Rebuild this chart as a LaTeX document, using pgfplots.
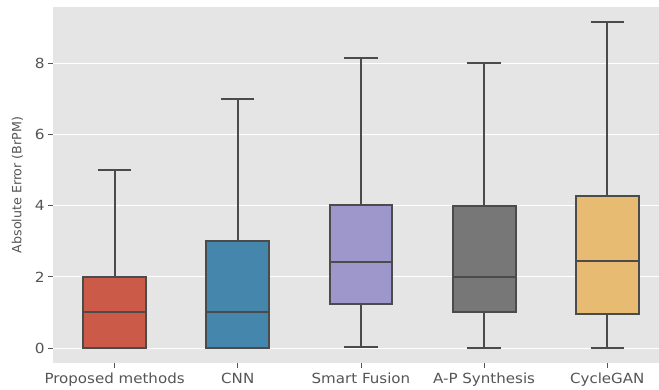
\documentclass[border=0pt]{standalone}
\usepackage{pgfplots}
\pgfplotsset{compat=1.18}
\usepgfplotslibrary{statistics}
\usepackage{fontspec}
\setmainfont{DejaVu Sans}
\definecolor{bggray}{HTML}{E5E5E5}
\definecolor{txtgray}{HTML}{555555}
\definecolor{edge}{RGB}{75,75,75}
\definecolor{c1}{RGB}{204,90,73}
\definecolor{c2}{RGB}{69,134,172}
\definecolor{c3}{RGB}{158,151,204}
\definecolor{c4}{RGB}{119,119,119}
\definecolor{c5}{RGB}{231,188,114}
\begin{document}
\begin{tikzpicture}
\begin{axis}[
  scale only axis,
  width=606bp, height=356bp,
  xmin=-0.5, xmax=4.42,
  ymin=-0.42, ymax=9.58,
  axis background/.style={fill=bggray},
  axis line style={draw=none},
  ymajorgrids, grid style={white, line width=1bp},
  xtick={0,1,2,3,4},
  xticklabels={Proposed methods,CNN,Smart Fusion,A-P Synthesis,CycleGAN},
  ytick={0,2,4,6,8},
  tick pos=left, tick align=outside,
  major tick length=4.5bp,
  tick style={color=txtgray, line width=0.8bp},
  ticklabel style={font=\fontsize{14}{16}\selectfont, text=txtgray},
  xticklabel style={xscale=1.08, yshift=-2bp},
  yticklabel style={xscale=1.1},
  /pgf/number format/assume math mode=true,
  ylabel={Absolute Error (BrPM)},
  every axis y label/.style={at={(axis description cs:-0.0586,0.5)}, rotate=90, anchor=center,
    font=\fontsize{12.7}{14}\selectfont, text=txtgray},
  boxplot/draw direction=y,
  boxplot/box extend=0.51,
  boxplot/whisker extend=0.27,
  boxplot/every box/.style={draw=edge, line width=2bp},
  boxplot/every whisker/.style={draw=edge, line width=2bp},
  boxplot/every median/.style={draw=edge, line width=2bp},
  clip=false,
]
\addplot+[fill=c1, draw=edge, line width=2bp, solid, mark=none, boxplot prepared={draw position=0,
  lower whisker=0, lower quartile=0, median=1, upper quartile=2, upper whisker=5}] coordinates {};
\addplot+[fill=c2, draw=edge, line width=2bp, solid, mark=none, boxplot prepared={draw position=1,
  lower whisker=0, lower quartile=0, median=1, upper quartile=3, upper whisker=7}] coordinates {};
\addplot+[fill=c3, draw=edge, line width=2bp, solid, mark=none, boxplot prepared={draw position=2,
  lower whisker=0.04, lower quartile=1.25, median=2.42, upper quartile=4.02, upper whisker=8.14}] coordinates {};
\addplot+[fill=c4, draw=edge, line width=2bp, solid, mark=none, boxplot prepared={draw position=3,
  lower whisker=0, lower quartile=1.0, median=2.0, upper quartile=3.99, upper whisker=8.0}] coordinates {};
\addplot+[fill=c5, draw=edge, line width=2bp, solid, mark=none, boxplot prepared={draw position=4,
  lower whisker=0, lower quartile=0.96, median=2.44, upper quartile=4.27, upper whisker=9.15}] coordinates {};
\end{axis}
\pgfresetboundingbox
\path[use as bounding box] (current axis.south west) ++(-53bp,-27bp) rectangle ([yshift=7bp]current axis.north east);
\end{tikzpicture}
\end{document}
